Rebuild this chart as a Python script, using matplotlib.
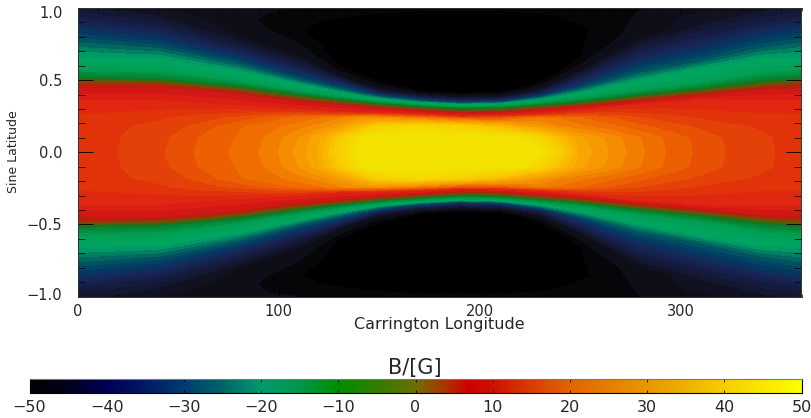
import numpy as np
import matplotlib
matplotlib.use("Agg")
import matplotlib.pyplot as plt
from matplotlib.colors import LinearSegmentedColormap
from matplotlib.ticker import MultipleLocator
from matplotlib.transforms import ScaledTranslation

plt.rcParams["font.family"] = ["DejaVu Sans"]
W, H = 811, 418

# longitude columns of the read-off tables
longitudes = [0, 20, 40, 60, 80, 95, 110, 120, 130, 140, 150, 170, 190, 210, 220, 230, 240, 250, 265, 280, 295, 310,
              325, 340, 360]

# sine latitude of each read-off row (north half; rows follow the field structure)
sine_lat = [
    [0]*25,
    [.10]*25,
    [.18]*25,
    [.24]*25,
    [.36, .36, .36, .34, .32, .31, .30, .29, .28, .277, .275, .265, .25, .255, .26, .265, .277, .29, .31, .33, .345, .36, .36, .36, .36],
    [.44, .445, .445, .425, .40, .37, .345, .335, .325, .312, .30, .285, .268, .27, .28, .29, .30, .31, .33, .35, .37, .39, .41, .43, .44],
    [.485, .483, .48, .457, .43, .40, .375, .36, .345, .332, .32, .30, .283, .287, .298, .31, .32, .33, .352, .375, .395, .415, .437, .46, .485],
    [.52, .515, .51, .485, .46, .43, .40, .382, .365, .35, .335, .315, .30, .305, .315, .325, .337, .35, .375, .40, .422, .445, .472, .50, .52],
    [.585, .58, .575, .54, .50, .465, .43, .41, .39, .372, .355, .335, .32, .325, .337, .35, .365, .38, .41, .44, .465, .49, .525, .56, .585],
    [.66, .655, .65, .605, .56, .515, .47, .442, .415, .392, .37, .345, .33, .335, .35, .365, .387, .41, .455, .50, .54, .58, .615, .65, .66],
    [.76, .74, .72, .665, .61, .555, .50, .47, .44, .41, .385, .355, .34, .345, .362, .38, .41, .44, .495, .55, .59, .63, .675, .72, .76],
    [.85, .82, .79, .725, .66, .60, .54, .505, .47, .435, .40, .37, .35, .358, .375, .395, .43, .47, .545, .62, .665, .71, .76, .81, .85],
    [.93, .90, .87, .795, .72, .655, .59, .545, .50, .455, .415, .38, .365, .37, .39, .41, .46, .52, .61, .70, .75, .80, .845, .89, .93],
    [.97, .955, .94, .87, .80, .73, .66, .595, .53, .48, .44, .40, .385, .39, .41, .44, .50, .56, .675, .79, .845, .90, .93, .96, .97],
    [.985, .978, .97, .935, .90, .85, .80, .69, .60, .55, .50, .44, .42, .43, .46, .50, .57, .65, .77, .88, .915, .95, .965, .98, .985],
    [.99, .985, .98, .965, .95, .90, .85, .86, .87, .90, .93, .95, .95, .95, .94, .93, .89, .85, .89, .93, .95, .97, .98, .99, .99],
    [1]*25,
]

# field value in gauss at those rows
field_b = [
    [13, 14, 15.5, 18.3, 20.6, 22.7, 26.7, 30.5, 38, 43, 44, 44, 44, 44, 43.8, 43.5, 38, 29.5, 25.8, 22.4, 19.5, 17.4, 15.7, 14.5, 13],
    [13, 13.9, 15.2, 18, 20.2, 22.3, 26, 29.5, 36, 42.5, 44, 44, 44, 44, 43, 39, 33.5, 28.5, 25.2, 22, 19.2, 17.2, 15.5, 14.4, 13],
    [13, 13.6, 14.7, 16.5, 19.7, 21.2, 23, 24.7, 27, 32, 38, 40, 38, 33, 29, 26.5, 24, 22.5, 20.5, 18.5, 16.8, 15.5, 14.4, 13.7, 13],
    [12.5, 12.8, 13.5, 15, 16.5, 18.5, 20.5, 21.5, 23.5, 25, 25, 22, 17, 17, 20, 22, 21.5, 20, 18, 16, 14.7, 13.7, 13, 12.6, 12.5],
    [10]*25,
    [6]*25,
    [0]*25,
    [-10]*25,
    [-17]*25,
    [-20]*25,
    [-26]*25,
    [-32]*25,
    [-38]*25,
    [-40, -41, -42, -43, -44, -44, -44, -44, -44, -44, -44, -44, -44, -44, -44, -44, -44, -44, -44, -44, -44, -43, -42, -41, -40],
    [-40.5, -41.8, -43, -44, -45, -46, -47, -47.5, -48, -48.5, -49, -50, -50, -50, -49.5, -49, -48.5, -48, -46.5, -45, -44.2, -43.5, -42.8, -42, -40.5],
    [-40.8, -42.2, -43.5, -44.5, -45.2, -46.5, -47.8, -48.8, -49, -49, -49, -49.5, -49.5, -49.5, -49.2, -49, -49, -48.5, -47, -45.5, -44.8, -44, -43.2, -42.5, -40.8],
    [-41, -42.5, -44, -45, -45.5, -45.8, -46, -46.5, -47, -47, -47, -47, -47, -47, -47, -47, -46.8, -46.5, -46.2, -46, -45.3, -44.5, -43.8, -43, -41],
]

# colour stops: value, r, g, b
map_values = [-50, -48, -46, -42, -38, -34, -30, -26, -22, -20, -16, -12, -8, -3, 0, 3, 6, 9, 13,
              17, 21, 25, 30, 36, 43, 50]
map_colors = [(0, 0, 0), (0, 0, 0), (12, 12, 20), (18, 20, 40), (22, 30, 70), (20, 40, 90), (0, 60, 100),
              (0, 90, 95), (0, 140, 100), (0, 165, 100), (0, 160, 80), (0, 140, 60), (20, 115, 30),
              (70, 100, 10), (130, 70, 10), (170, 40, 10), (205, 20, 20), (220, 30, 20), (225, 50, 10),
              (232, 80, 5), (240, 110, 0), (245, 140, 0), (250, 170, 0), (250, 200, 0), (243, 225, 0),
              (255, 255, 0)]
bar_values = [-50, -46, -40, -36, -30, -25, -20, -15, -10, -5, 0, 4, 7, 10, 15, 20, 25, 30, 35, 40, 45, 50]
bar_colors = [(0, 0, 0), (0, 0, 20), (0, 0, 85), (0, 20, 95), (0, 60, 110), (0, 100, 105), (0, 155, 110),
              (0, 150, 70), (0, 140, 0), (50, 125, 0), (110, 110, 0), (170, 50, 0), (205, 0, 0), (205, 15, 0),
              (215, 60, 0), (225, 100, 0), (228, 125, 0), (232, 150, 0), (238, 175, 0), (245, 205, 0),
              (250, 230, 0), (255, 255, 0)]

x_ticks = [0, 100, 200, 300]
y_ticks = [-1.0, -0.5, 0.0, 0.5, 1.0]
bar_ticks = [-50, -40, -30, -20, -10, 0, 10, 20, 30, 40, 50]


def make_cmap(values, colors, name):
    lo, hi = values[0], values[-1]
    return LinearSegmentedColormap.from_list(
        name, [((v - lo) / (hi - lo), tuple(c / 255 for c in col)) for v, col in zip(values, colors)], N=512)


def box(l, t, r, b):
    return [l / W, 1 - b / H, (r - l) / W, (b - t) / H]


TC = "#262626"
fig = plt.figure(figsize=(W / 100, H / 100), dpi=100)
ax = fig.add_axes(box(77.6, 8, 801.5, 296.6))

lat_n = np.array(sine_lat, float)
val_n = np.array(field_b, float)
lat = np.vstack([-lat_n[:0:-1], lat_n])
val = np.vstack([val_n[:0:-1], val_n])
lon = np.tile(np.array(longitudes, float), (lat.shape[0], 1))

cmap = make_cmap(map_values, map_colors, "field")
levels = np.arange(-50, 51, 2)
cf = ax.contourf(lon, lat, val, levels=levels, cmap=cmap, vmin=-50, vmax=50, extend="both", antialiased=False)

ax.set_xlim(0, 360)
ax.set_ylim(-1, 1)
ax.set_xticks(x_ticks)
ax.set_yticks(y_ticks)
ax.set_yticklabels(["\u22121.0", "\u22120.5", "0.0", "0.5", "1.0"])
ax.xaxis.set_minor_locator(MultipleLocator(10))
ax.yaxis.set_minor_locator(MultipleLocator(0.1))
ax.tick_params(axis="x", which="major", direction="in", top=True, length=4.5, width=0.6, labelsize=10.5,
               labelcolor=TC, pad=5)
ax.tick_params(axis="x", which="minor", direction="in", top=True, length=2.2, width=0.5)
ax.tick_params(axis="y", which="major", direction="in", right=True, length=10.5, width=0.6, labelsize=10.5,
               labelcolor=TC, pad=11)
ax.tick_params(axis="y", which="minor", direction="in", right=True, length=5.2, width=0.5)
for s in ax.spines.values():
    s.set_linewidth(0.7)
    s.set_color("#333333")

# the outermost y labels sit just inside the axis ends
labs = ax.get_yticklabels()
labs[0].set_transform(labs[0].get_transform() + ScaledTranslation(0, 3 / 100, fig.dpi_scale_trans))
labs[-1].set_transform(labs[-1].get_transform() + ScaledTranslation(0, -4 / 100, fig.dpi_scale_trans))

fig.text(439 / W, 1 - 325 / H, "Carrington Longitude", ha="center", va="center", fontsize=11.5, color=TC)
fig.text(13.5 / W, 1 - 152 / H, "Sine Latitude", rotation=90, ha="center", va="center", fontsize=9, color=TC)

cax = fig.add_axes(box(29.5, 378.7, 801.5, 393.3))
bar_cmap = make_cmap(bar_values, bar_colors, "bar")
grad = np.linspace(-50, 50, 512)
cax.pcolormesh(grad, [0, 1], grad[:-1][None, :] + 0.1, cmap=bar_cmap, vmin=-50, vmax=50)
cax.set_xlim(-50, 50)
cax.set_yticks([])
cax.set_xticks(bar_ticks)
cax.set_xticklabels([str(t).replace("-", "\u2212") for t in bar_ticks])
cax.tick_params(axis="x", which="major", direction="in", top=True, length=2, width=0.6, labelsize=11.5,
                labelcolor=TC, pad=5)
for k, s in cax.spines.items():
    s.set_linewidth(0.8)
    s.set_color("#777777" if k == "top" else "black")
fig.text(414.5 / W, 1 - 368 / H, "B/[G]", ha="center", va="center", fontsize=15, color=TC)

fig.savefig("out.png", dpi=100)
